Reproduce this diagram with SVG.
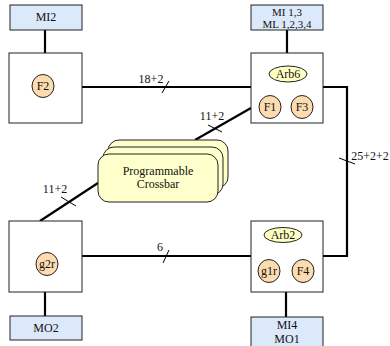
<svg xmlns="http://www.w3.org/2000/svg" width="390" height="346" viewBox="0 0 390 346" font-family="'Liberation Serif', 'Times New Roman', serif">
<style>
text{font-family:'Liberation Serif','Times New Roman',serif;font-size:12px;fill:#111;text-anchor:middle}
text.s{font-size:11px}
.io{fill:#dce9fa;stroke:#222;stroke-width:1}
.nd{fill:#fff;stroke:#222;stroke-width:1}
.fu{fill:#fddcb0;stroke:#222;stroke-width:1}
.arb{fill:#ffffc4;stroke:#222;stroke-width:1}
.xb{fill:#ffffcc;stroke:#222;stroke-width:1}
.c{fill:none;stroke:#000;stroke-width:2.2}
.t{fill:none;stroke:#000;stroke-width:1}
</style>
<g id="connectors">
<line class="c" x1="45" y1="30" x2="45" y2="53"/>
<line class="c" x1="287" y1="30" x2="287" y2="53"/>
<line class="c" x1="45" y1="292" x2="45" y2="316"/>
<line class="c" x1="286" y1="292" x2="286" y2="317"/>
<line class="c" x1="82" y1="87" x2="251" y2="87"/>
<line class="c" x1="82" y1="256" x2="251" y2="256"/>
<polyline class="c" points="323,87 347,87 347,256 323,256"/>
<line class="c" x1="251" y1="108" x2="195" y2="140"/>
<line class="c" x1="98" y1="183" x2="40" y2="221"/>
<line class="t" x1="169" y1="81" x2="162" y2="93"/>
<line class="t" x1="169" y1="250" x2="163" y2="263"/>
<line class="t" x1="339" y1="158" x2="355" y2="164"/>
<line class="t" x1="208" y1="125" x2="222" y2="132"/>
<line class="t" x1="61" y1="197" x2="76" y2="206"/>
<text x="151" y="83">18+2</text>
<text x="160" y="251">6</text>
<text x="370" y="160">25+2+2</text>
<text x="212" y="120">11+2</text>
<text x="55" y="193">11+2</text>
</g>
<g id="MI2"><rect class="io" x="10" y="5" width="72" height="25"/><text x="46" y="21">MI2</text></g>
<g id="MI13"><rect class="io" x="251" y="5" width="72" height="25"/><text class="s" x="287" y="16">MI 1,3</text><text class="s" x="287" y="28">ML 1,2,3,4</text></g>
<g id="MO2"><rect class="io" x="10" y="316" width="72" height="24"/><text x="46" y="332">MO2</text></g>
<g id="MI4"><rect class="io" x="251" y="317" width="72" height="32"/><text x="287" y="329">MI4</text><text x="287" y="343">MO1</text></g>
<g id="nodeTL"><rect class="nd" x="9" y="53" width="73" height="70"/><ellipse class="fu" cx="43" cy="86" rx="11" ry="11.5"/><text x="43" y="90">F2</text></g>
<g id="nodeTR"><rect class="nd" x="251" y="53" width="72" height="70"/><ellipse class="arb" cx="288" cy="74" rx="19" ry="8"/><text x="288" y="78">Arb6</text><ellipse class="fu" cx="270" cy="107" rx="11" ry="11.5"/><text x="270" y="111">F1</text><ellipse class="fu" cx="302" cy="107" rx="11" ry="11.5"/><text x="302" y="111">F3</text></g>
<g id="nodeBL"><rect class="nd" x="9" y="221" width="73" height="71"/><ellipse class="fu" cx="47" cy="264" rx="11" ry="11.5"/><text x="47" y="268">g2r</text></g>
<g id="nodeBR"><rect class="nd" x="251" y="221" width="72" height="71"/><ellipse class="arb" cx="283" cy="235" rx="19" ry="7.5"/><text x="283" y="239">Arb2</text><ellipse class="fu" cx="269" cy="271" rx="11" ry="11.5"/><text x="269" y="275">g1r</text><ellipse class="fu" cx="303" cy="271" rx="11" ry="11.5"/><text x="303" y="275">F4</text></g>
<g id="crossbar">
<rect class="xb" x="108" y="140" width="120" height="48" rx="11"/>
<rect class="xb" x="103" y="147" width="120" height="48" rx="11"/>
<rect class="xb" x="98" y="154" width="120" height="48" rx="11"/>
<text x="158" y="175">Programmable</text>
<text x="158" y="188">Crossbar</text>
</g>
</svg>
